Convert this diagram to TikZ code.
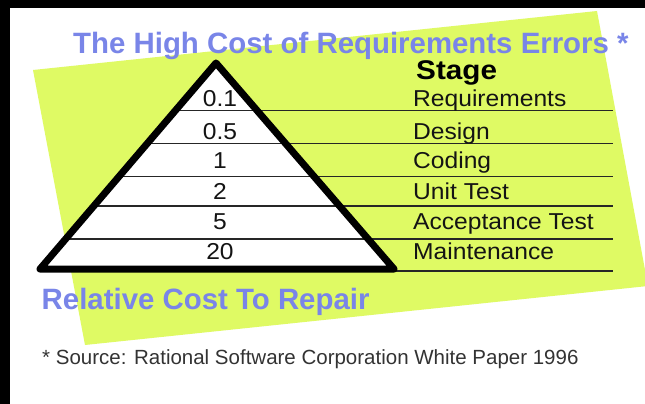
\documentclass[tikz,border=0pt]{standalone}
\usepackage{fontspec}
\setmainfont{Liberation Sans}
\newfontfamily\labfont[FakeStretch=1.07]{Liberation Sans}
\newfontfamily\stagefont[FakeStretch=1.1]{Liberation Sans}
\usetikzlibrary{calc}
\definecolor{limebg}{RGB}{223,250,100}
\definecolor{titleblue}{RGB}{121,133,232}
\definecolor{notegray}{RGB}{51,51,51}
\begin{document}
\begin{tikzpicture}[x=1pt,y=-1pt,
  lab/.style={inner sep=0pt, anchor=base west, text=black!92, font=\labfont\fontsize{23}{25}\selectfont},
  num/.style={inner sep=0pt, anchor=base, text=black!92, font=\labfont\fontsize{23}{25}\selectfont},
  rule/.style={line width=1.6pt, black!85},
  heading/.style={inner sep=0pt, anchor=base west, text=titleblue, font=\bfseries\fontsize{29.4}{31}\selectfont},
  stagehead/.style={inner sep=0pt, anchor=base west, text=black, font=\stagefont\bfseries\fontsize{27}{29}\selectfont},
  note/.style={inner sep=0pt, anchor=base west, text=notegray, font=\fontsize{20.5}{22}\selectfont}]
\useasboundingbox (0,0) rectangle (645,404);
\fill[white] (0,0) rectangle (645,404);
\fill[black] (0,0) rectangle (10,404);
\fill[black] (0,0) rectangle (645,8);
\begin{scope}
  \clip (10,8) rectangle (645,404);
  \fill[limebg] (33,70) -- (597,11) -- (648,286) -- (85,345) -- cycle;
\end{scope}
% pyramid geometry
\coordinate (A) at (216,63);
\coordinate (L) at (40,269);
\coordinate (R) at (394,269);
\coordinate (E) at (613,0);
\coordinate (R2) at (394,271);
\fill[white] (A) -- (L) -- (R) -- cycle;
\foreach \y [count=\i] in {110.5,143.5,176.5,206,239} {
  \coordinate (p\i) at ($(A)!{(\y-63)/206}!(L)$);
  \draw[rule] (p\i) -- (p\i -| E);
}
\draw[rule] (R2) -- (R2 -| E);
\draw[line width=7pt, line join=round] (A) -- (L) -- (R) -- cycle;
% texts
\foreach \y/\v/\s [count=\i] in {106/0.1/Requirements, 139/0.5/Design, 168/1/Coding, 199/2/Unit Test, 229.5/5/Acceptance Test, 259.5/20/Maintenance} {
  \node[num] (n\i) at (220,\y) {\v};
  \node[lab] (s\i) at (413,\y) {\s};
}
\node[stagehead] (stage) at (416,80) {Stage};
\node[heading] (title) at (73,53) {The High Cost of Requirements Errors *};
\node[heading] (rel) at (41.5,309.3) {Relative Cost To Repair};
\node[note] (src) at (42,364) {* Source: Rational Software Corporation White Paper 1996};
\end{tikzpicture}
\end{document}
